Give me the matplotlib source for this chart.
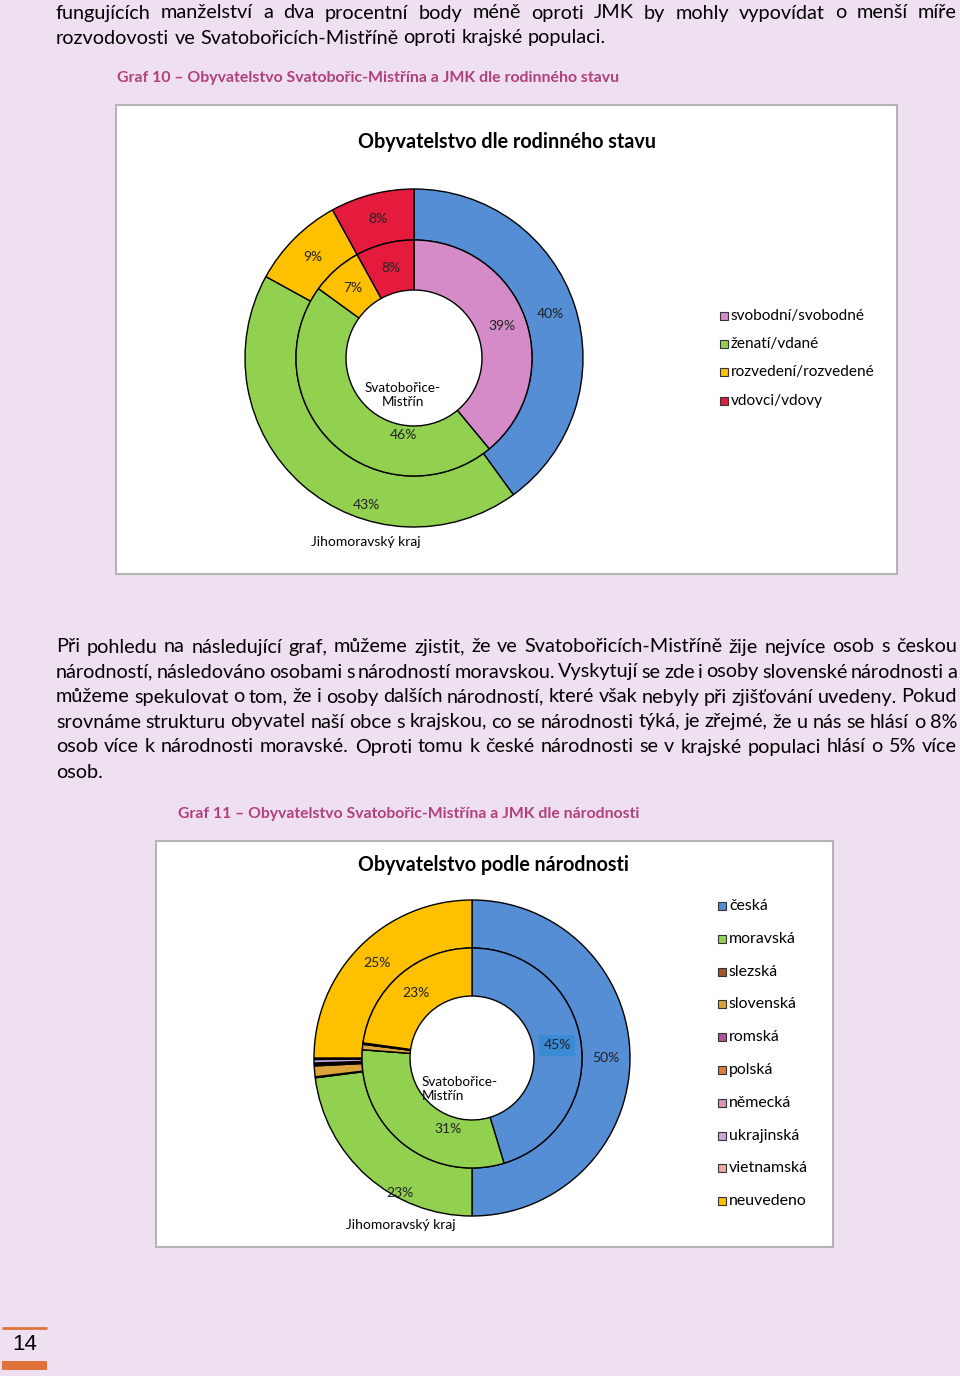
import matplotlib
matplotlib.use('Agg')
import matplotlib.pyplot as plt
import numpy as np
from matplotlib import font_manager
from matplotlib.patches import Rectangle

W, H = 960, 1376
BG = '#EEE0F0'

installed = {f.name for f in font_manager.fontManager.ttflist}
FONT = next(f for f in ['Lato', 'Noto Sans', 'DejaVu Sans'] if f in installed)
FAM = [FONT, 'DejaVu Sans']

# --- texts ---
top_lines = [
    "fungujících manželství a dva procentní body méně oproti JMK by mohly vypovídat o menší míře",
    "rozvodovosti ve Svatobořicích-Mistříně oproti krajské populaci.",
]
para_lines = [
    "Při pohledu na následující graf, můžeme zjistit, že ve Svatobořicích-Mistříně žije nejvíce osob s českou",
    "národností, následováno osobami s národností moravskou. Vyskytují se zde i osoby slovenské národnosti a",
    "můžeme spekulovat o tom, že i osoby dalších národností, které však nebyly při zjišťování uvedeny. Pokud",
    "srovnáme strukturu obyvatel naší obce s krajskou, co se národnosti týká, je zřejmé, že u nás se hlásí o 8%",
    "osob více k národnosti moravské. Oproti tomu k české národnosti se v krajské populaci hlásí o 5% více",
    "osob.",
]
cap1 = "Graf 10 – Obyvatelstvo Svatobořic-Mistřína a JMK dle rodinného stavu"
cap2 = "Graf 11 – Obyvatelstvo Svatobořic-Mistřína a JMK dle národnosti"
title1 = "Obyvatelstvo dle rodinného stavu"
title2 = "Obyvatelstvo podle národnosti"
obec = "Svatobořice-\nMistřín"
kraj = "Jihomoravský kraj"
page_no = "14"

# --- chart 1: rodinny stav ---
stav = ['svobodní/svobodné', 'ženatí/vdané', 'rozvedení/rozvedené', 'vdovci/vdovy']
stav_obec = [39, 46, 7, 8]
stav_jmk = [40, 43, 9, 8]
stav_col_obec = ['#D48BC8', '#92D050', '#FFC000', '#E51B3E']
stav_col_jmk = ['#558ED5', '#92D050', '#FFC000', '#E51B3E']

# --- chart 2: narodnost ---
narod = ['česká', 'moravská', 'slezská', 'slovenská', 'romská', 'polská',
         'německá', 'ukrajinská', 'vietnamská', 'neuvedeno']
narod_obec = [45.3, 30.9, 0, 0.8, 0, 0.1, 0.1, 0, 0, 22.8]
narod_jmk = [50, 23, 0.1, 1.1, 0.1, 0.1, 0.1, 0.35, 0.15, 25]
narod_col = ['#558ED5', '#92D050', '#A9522B', '#DDA33A', '#B4519C', '#E07B39',
             '#D495B8', '#C7A6DA', '#EFA79B', '#FFC000']

fig = plt.figure(figsize=(W / 100, H / 100), dpi=100)
fig.patch.set_facecolor(BG)
ax = fig.add_axes([0, 0, 1, 1])
renderer = fig.canvas.get_renderer()


def P(y):
    return H - y


def width_of(s, size, **kw):
    t = ax.text(0, 0, s, fontsize=size, family=FAM, **kw)
    w = t.get_window_extent(renderer).width
    t.remove()
    return w


def advance(s, size):
    # width including side bearings
    return width_of('|' + s + '|', size) - width_of('||', size)


def bearing(s, size):
    # left bearing of s, relative to that of '|'
    return width_of('|' + s, size) - width_of(s, size) - width_of('||', size) + width_of('|', size)


def fit(t, target):
    w = t.get_window_extent(renderer).width
    t.set_fontsize(t.get_fontsize() * target / w)
    return t


def put_line(s, y, x0, x1, size, justify=True, **kw):
    words = s.split(' ')
    widths = [advance(w, size) for w in words]
    space = advance('a a', size) - advance('aa', size)
    if justify and len(words) > 1:
        gap = (x1 - x0 - sum(widths)) / (len(words) - 1)
    else:
        gap = space
    x = x0
    for w, wd in zip(words, widths):
        ax.text(x + bearing(w, size), P(y), w, fontsize=size, family=FAM, va='center', ha='left', **kw)
        x += wd + gap


def ring(vals, cols, cx, cy, R, width, overrides=None, boxed=None):
    wedges, _ = ax.pie(vals, radius=R, center=(cx, P(cy)), startangle=90, counterclock=False,
                       colors=cols, wedgeprops=dict(width=width, edgecolor='black', linewidth=1.0))
    overrides = overrides or {}
    for i, (wd, v) in enumerate(zip(wedges, vals)):
        if v < 5:
            continue
        ang = np.deg2rad((wd.theta1 + wd.theta2) / 2)
        rr = R - width / 2
        x, y = cx + rr * np.cos(ang), P(cy) + rr * np.sin(ang)
        if i in overrides:
            x, y = overrides[i][0], P(overrides[i][1])
        bb = None
        if boxed == i:
            bb = dict(boxstyle='square,pad=0.3', fc='#3A8AD4', ec='none')
        ax.text(x, y, f'{v:.0f}%', fontsize=10, family=FAM, color='#222222',
                ha='center', va='center', bbox=bb)


def legend(labels, cols, x, y0, dy, size):
    for i, (lab, c) in enumerate(zip(labels, cols)):
        yy = y0 + i * dy
        ax.add_patch(Rectangle((x - 4, P(yy) - 4), 8, 8, fc=c, ec='#333333', lw=0.8))
        ax.text(x + 7, P(yy), lab, fontsize=size, family=FAM, va='center', ha='left', color='black')


# body text, size chosen so that the first paragraph line nearly fills the column
body = 13.5 * 885 / width_of(para_lines[0], 13.5)
put_line(top_lines[0], 13, 56, 957, body)
put_line(top_lines[1], 38, 56, 957, body, justify=False)
for i, s in enumerate(para_lines):
    put_line(s, 647 + 25 * i, 56, 957, body, justify=(i < len(para_lines) - 1))

# captions
fit(ax.text(117, P(78), cap1, fontsize=10.5, family=FAM, color='#B23F7E', fontweight='bold', va='center'), 503)
fit(ax.text(178, P(814), cap2, fontsize=10.5, family=FAM, color='#B23F7E', fontweight='bold', va='center'), 463)

# chart 1 box
ax.add_patch(Rectangle((116, P(574)), 781, 469, fc='white', ec='#B4B4B4', lw=1.5))
fit(ax.text(507, P(142), title1, fontsize=13, family=FAM, fontweight='bold', ha='center', va='center'), 297)
ring(stav_jmk, stav_col_jmk, 414, 358, 169, 51, overrides={1: (366, 505)})
ring(stav_obec, stav_col_obec, 414, 358, 118, 50, overrides={1: (403, 435)})
fit(ax.text(403, P(395), obec, fontsize=10, family=FAM, ha='center', va='center', linespacing=1.25), 76)
fit(ax.text(366, P(542), kraj, fontsize=10, family=FAM, ha='center', va='center'), 110)
legend(stav, stav_col_obec, 724, 316, 28.2, 11 * 134 / width_of(stav[0], 11))

# chart 2 box
ax.add_patch(Rectangle((156, P(1247)), 677, 406, fc='white', ec='#B4B4B4', lw=1.5))
fit(ax.text(494, P(865), title2, fontsize=13, family=FAM, fontweight='bold', ha='center', va='center'), 270)
ring(narod_jmk, narod_col, 472, 1058, 158, 48, overrides={1: (400, 1193)})
ring(narod_obec, narod_col, 472, 1058, 110, 48, overrides={1: (448, 1129)}, boxed=0)
fit(ax.text(422, P(1089), obec, fontsize=10, family=FAM, ha='left', va='center', linespacing=1.25), 76)
fit(ax.text(401, P(1225), kraj, fontsize=10, family=FAM, ha='center', va='center'), 110)
legend(narod, narod_col, 722, 906, 32.8, 11 * 79 / width_of(narod[8], 11))

# page number
ax.plot([2, 47], [P(1328), P(1328)], color='#E0733A', lw=2, solid_capstyle='butt')
ax.add_patch(Rectangle((2, P(1370)), 45, 9, fc='#E0733A', ec='none'))
ax.text(25, P(1344), page_no, fontsize=16, family=['Liberation Sans', 'DejaVu Sans'], ha='center', va='center')

ax.set_xlim(0, W)
ax.set_ylim(0, H)
ax.set_aspect('equal')
ax.axis('off')
fig.savefig('out.png', dpi=100, facecolor=BG)
